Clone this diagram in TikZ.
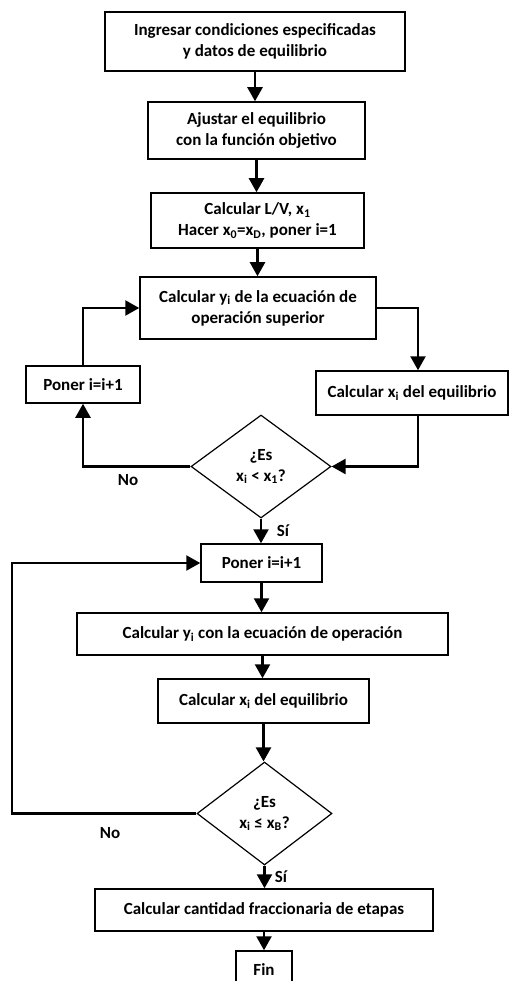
\documentclass[tikz,border=0pt]{standalone}
\usepackage{fontspec}
\setmainfont{Carlito}
\usetikzlibrary{shapes.geometric,arrows.meta,calc}
\tikzset{
  box/.style={draw, line width=1.5pt, rectangle, inner sep=0pt, align=center, font=\bfseries\fontsize{17}{21}\selectfont},
  dia/.style={draw, line width=1.2pt, diamond, inner sep=0pt, align=center, font=\bfseries\fontsize{17}{21}\selectfont},
  conn/.style={line width=2.4pt, -{Triangle[width=15pt,length=14pt]}},
  lab/.style={font=\bfseries\fontsize{17}{20}\selectfont}
}
\newcommand{\sbi}[1]{\textsubscript{#1}}
\begin{document}
\begin{tikzpicture}[x=1pt,y=-1pt]
\useasboundingbox (0,0) rectangle (510,981);
\node[box, minimum width=300pt, minimum height=59pt] (B1) at (255,41.5) {Ingresar condiciones especificadas\\y datos de equilibrio};
\node[box, minimum width=217pt, minimum height=57pt] (B2) at (256.5,130.5) {Ajustar el equilibrio\\con la función objetivo};
\node[box, minimum width=213pt, minimum height=55pt] (B3) at (257.5,220.5) {Calcular L/V, x\sbi{1}\\Hacer x\sbi{0}=x\sbi{D}, poner i=1};
\node[box, minimum width=236pt, minimum height=62pt] (B4) at (258,308) {Calcular y\sbi{i} de la ecuación de\\operación superior};
\node[box, minimum width=192pt, minimum height=44pt] (B5) at (412,393) {Calcular x\sbi{i} del equilibrio};
\node[box, minimum width=114pt, minimum height=37pt] (B6) at (83,384.5) {Poner i=i+1};
\node[dia, minimum width=140pt, minimum height=103pt] (D1) at (261,466.5) {¿Es\\x\sbi{i} < x\sbi{1}?};
\node[box, minimum width=121pt, minimum height=38pt] (B7) at (261.5,563) {Poner i=i+1};
\node[box, minimum width=371pt, minimum height=42pt] (B8) at (262.5,634) {Calcular y\sbi{i} con la ecuación de operación};
\node[box, minimum width=211pt, minimum height=44pt] (B9) at (263.5,701) {Calcular x\sbi{i} del equilibrio};
\node[dia, minimum width=135pt, minimum height=103pt] (D2) at (264.5,813.5) {¿Es\\x\sbi{i} ≤ x\sbi{B}?};
\node[box, minimum width=338pt, minimum height=42pt] (B10) at (264,910) {Calcular cantidad fraccionaria de etapas};
\node[box, minimum width=56pt, minimum height=38pt] (Fin) at (264,970) {Fin};
\coordinate (L) at (12,0);
\coordinate (R) at (418,0);

\draw[conn] (B1.south) -- (B1.south |- B2.north);
\draw[conn] (B2.south) -- (B2.south |- B3.north);
\draw[conn] (B3.south) -- (B3.south |- B4.north);
\draw[conn] (B4.east) -| (R |- B5.north);
\draw[conn] (R |- B5.south) |- (D1.east);
\draw[conn] (D1.west) -| (B6.south);
\draw[conn] (B6.north) |- (B4.west);
\draw[conn] (D1.south) -- (D1.south |- B7.north);
\draw[conn] (B7.south) -- (B7.south |- B8.north);
\draw[conn] (B8.south) -- (B8.south |- B9.north);
\draw[conn] (B9.south) -- (B9.south |- D2.north);
\draw[conn] (D2.west) -- (D2.west -| L) |- (B7.west);
\draw[conn] (D2.south) -- (D2.south |- B10.north);
\draw[conn] (B10.south) -- (B10.south |- Fin.north);

\node[lab] (no1) at (128,480) {No};
\node[lab] (si1) at (283,531) {Sí};
\node[lab] (no2) at (110,833) {No};
\node[lab] (si2) at (281,877) {Sí};
\end{tikzpicture}
\end{document}
